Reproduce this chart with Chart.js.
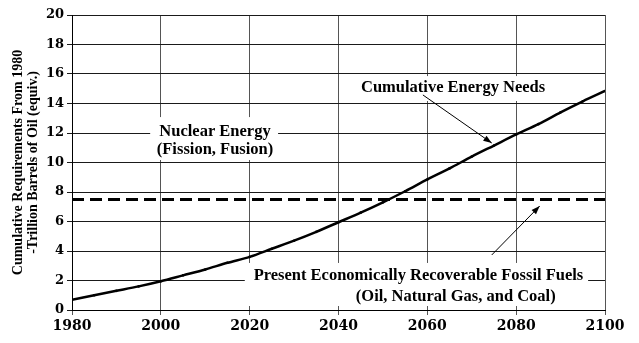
<!DOCTYPE html>
<html><head><meta charset="utf-8">
<script src="https://cdn.jsdelivr.net/npm/chart.js@4.4.1/dist/chart.umd.min.js"></script>
<style>html,body{margin:0;padding:0;background:#fff}#wrap{width:639px;height:343px}</style>
</head><body><div id="wrap"><canvas id="c" width="639" height="343"></canvas></div>
<script>
const years = [1980,1985,1990,1995,2000,2005,2010,2015,2020,2025,2030,2035,2040,2045,2050,2055,2060,2065,2070,2075,2080,2085,2090,2095,2100];
const cumulativeNeeds = [0.7,1.0,1.3,1.6,1.95,2.35,2.75,3.2,3.6,4.15,4.7,5.3,5.95,6.6,7.3,8.05,8.85,9.6,10.4,11.15,11.9,12.6,13.4,14.15,14.85];
const fossilYears = [1980,2100];
const fossilFuels = [7.5,7.5];
const xTicks = [1980,2000,2020,2040,2060,2080,2100];
const yTitle = ['Cumulative Requirements From 1980','-Trillion Barrels of Oil (equiv.)'];
const labelNuclear = ['Nuclear Energy','(Fission, Fusion)'];
const labelNeeds = 'Cumulative Energy Needs';
const labelFossil = ['Present Economically Recoverable Fossil Fuels','(Oil, Natural Gas, and Coal)'];

const FONT = '"Liberation Serif","Times New Roman",serif';
const TICKFONT = '"DejaVu Serif",serif';

const annot = {
  id:'annot',
  beforeDatasetsDraw(chart){
    const ctx = chart.ctx, x = chart.scales.x, y = chart.scales.y;
    const X = v=>x.getPixelForValue(v), Y = v=>y.getPixelForValue(v);
    function box(x0,y0,x1,y1){
      ctx.fillStyle='#fff';
      ctx.fillRect(X(x0),Y(y0),X(x1)-X(x0),Y(y1)-Y(y0));
    }
    function text(s,xv,yv){
      ctx.fillStyle='#000';
      ctx.font='bold 16.5px '+FONT;
      ctx.textAlign='center';ctx.textBaseline='middle';
      ctx.fillText(s,X(xv),Y(yv));
    }
    function arrow(x0,y0,x1,y1){
      const a=X(x0),b=Y(y0),c=X(x1),d=Y(y1);
      ctx.strokeStyle='#000';ctx.lineWidth=1;
      ctx.beginPath();ctx.moveTo(a,b);ctx.lineTo(c,d);ctx.stroke();
      const ang=Math.atan2(d-b,c-a),L=9,W=0.35;
      ctx.fillStyle='#000';ctx.beginPath();
      ctx.moveTo(c,d);
      ctx.lineTo(c-L*Math.cos(ang-W),d-L*Math.sin(ang-W));
      ctx.lineTo(c-L*Math.cos(ang+W),d-L*Math.sin(ang+W));
      ctx.closePath();ctx.fill();
    }
    ctx.save();
    box(1997.6,13.08,2026.4,10.17);
    text(labelNuclear[0],2012.2,12.1);
    text(labelNuclear[1],2012.2,10.85);
    box(2043.7,15.86,2088.3,14.17);
    text(labelNeeds,2065.8,15.05);
    arrow(2059.0,14.58,2074.5,11.32);
    box(2018.9,3.19,2096.2,0.27);
    text(labelFossil[0],2058.0,2.3);
    text(labelFossil[1],2066.4,0.9);
    arrow(2074.5,3.73,2085.3,7.05);
    ctx.restore();
  }
};

new Chart(document.getElementById('c'),{
  type:'line',
  data:{datasets:[
    {data:years.map((v,i)=>({x:v,y:cumulativeNeeds[i]})),borderColor:'#000',borderWidth:2.5,pointRadius:1.3,pointBackgroundColor:'#000',pointBorderWidth:0,tension:0.3},
    {data:fossilYears.map((v,i)=>({x:v,y:fossilFuels[i]})),borderColor:'#000',borderWidth:3,borderDash:[12,6],pointRadius:0}
  ]},
  options:{
    responsive:false,animation:false,
    layout:{padding:{top:15,right:34,left:0,bottom:0}},
    plugins:{legend:{display:false},tooltip:{enabled:false}},
    scales:{
      x:{type:'linear',min:1980,max:2100,
        afterBuildTicks(s){s.ticks=xTicks.map(v=>({value:v}));},
        afterFit(s){s.height=33;},
        grid:{color:'#555',lineWidth:1,tickLength:5,drawTicks:true},
        border:{color:'#000',width:1},
        ticks:{color:'#000',font:{family:TICKFONT,size:14,weight:'bold'},padding:3,maxRotation:0,callback:v=>String(v)}
      },
      y:{min:0,max:20,
        ticks:{stepSize:2,color:'#000',font:{family:TICKFONT,size:13,weight:'bold'},padding:3},
        afterFit(s){s.width=72;},
        grid:{color:'#1a1a1a',lineWidth:1,tickLength:5},
        border:{color:'#000',width:1},
        title:{display:true,text:yTitle,color:'#000',font:{family:FONT,size:14,weight:'bold',lineHeight:1.08},padding:{top:11,bottom:0}}
      }
    }
  },
  plugins:[annot]
});
</script></body></html>
